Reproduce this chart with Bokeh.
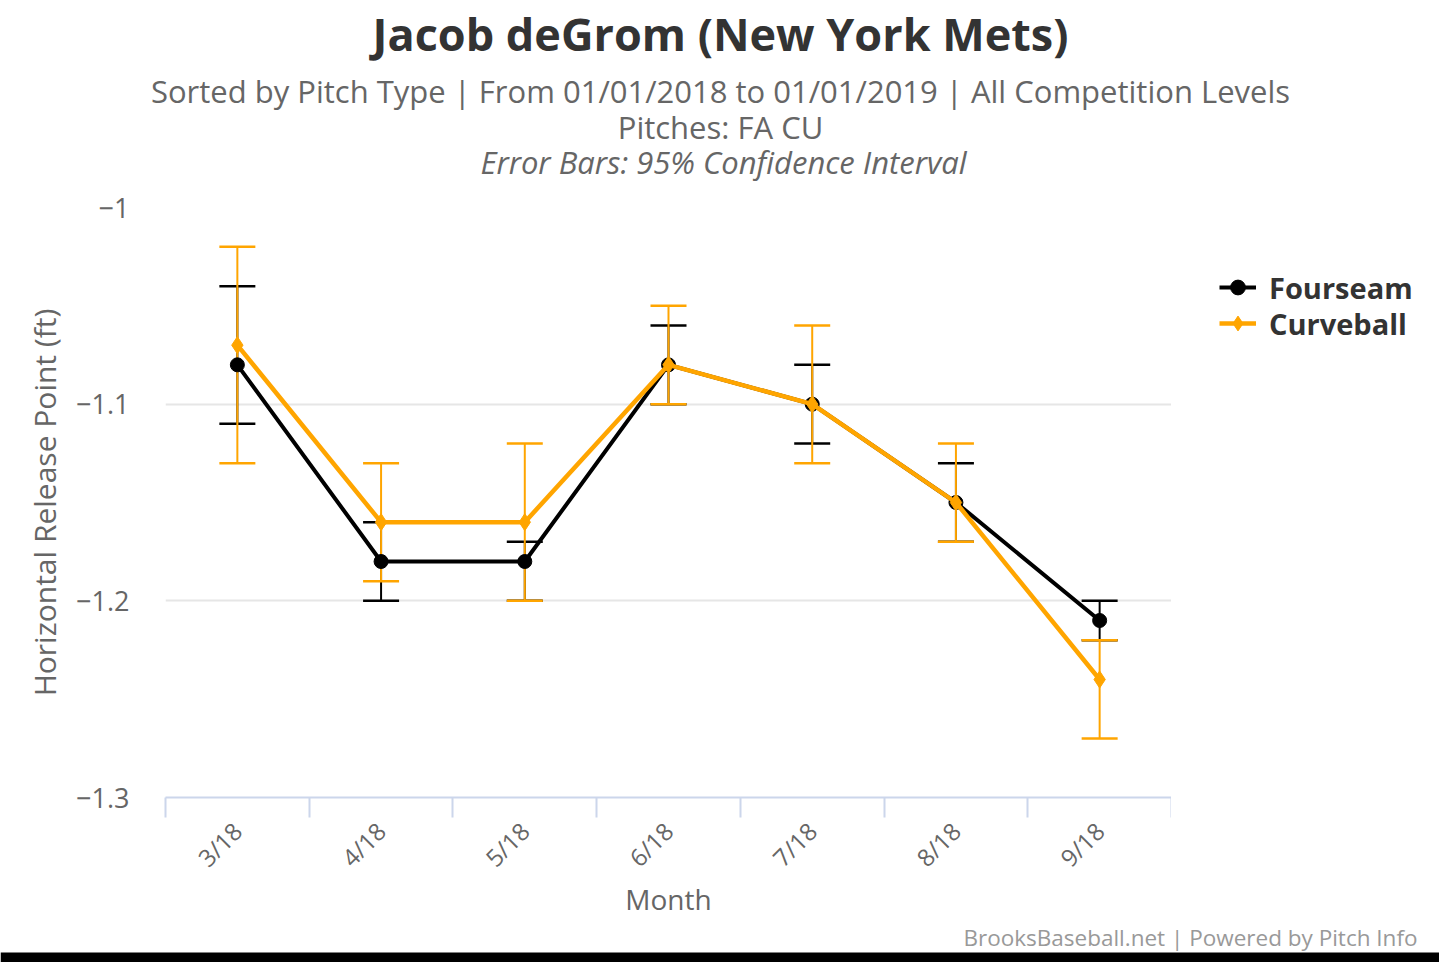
import math
from bokeh.plotting import figure
from bokeh.layouts import column, row
from bokeh.models import Range1d, FixedTicker, Legend, LegendItem, ColumnDataSource
from bokeh.core.properties import value
from bokeh.embed import file_html
from bokeh.resources import INLINE

# ---- data ----
months = ["3/18", "4/18", "5/18", "6/18", "7/18", "8/18", "9/18"]
fs_mean = [-1.08, -1.18, -1.18, -1.08, -1.10, -1.15, -1.21]
fs_low = [-1.11, -1.20, -1.20, -1.10, -1.12, -1.17, -1.22]
fs_high = [-1.04, -1.16, -1.17, -1.06, -1.08, -1.13, -1.20]
cu_mean = [-1.07, -1.16, -1.16, -1.08, -1.10, -1.15, -1.24]
cu_low = [-1.13, -1.19, -1.20, -1.10, -1.13, -1.17, -1.27]
cu_high = [-1.02, -1.13, -1.12, -1.05, -1.06, -1.12, -1.22]
y_ticks = [-1.3, -1.2, -1.1, -1.0]
y_tick_labels = ["\u22121.3", "\u22121.2", "\u22121.1", "\u22121"]
series_names = ["Fourseam", "Curveball"]

title_text = "Jacob deGrom (New York Mets)"
sub1 = "Sorted by Pitch Type | From 01/01/2018 to 01/01/2019 | All Competition Levels"
sub2 = "Pitches: FA CU"
sub3 = "Error Bars: 95% Confidence Interval"
credit = "BrooksBaseball.net | Powered by Pitch Info"

FONT = "Open Sans"
BLACK = "#000000"
ORANGE = "#FFA500"

# ---- page layout (pixels) ----
PAGE_W, PAGE_H = 1439, 962
HEADER_H = 185
FRAME_L, FRAME_R, FRAME_T, FRAME_B = 165, 1171, 207, 798
MAIN_TOP_BORDER = FRAME_T - HEADER_H
MAIN_BOTTOM_BORDER = 123
MAIN_H = FRAME_B - HEADER_H + MAIN_BOTTOM_BORDER
FOOTER_H = PAGE_H - HEADER_H - MAIN_H
SIDE_W = PAGE_W - FRAME_R
LEG_ITEM_H = 40
LEG_LEFT = 1219
legend_centers = [288, 324]


def blank(w, h, top=0, bottom=0):
    f = figure(width=w, height=h, output_backend="svg", toolbar_location=None,
               x_range=Range1d(0, w), y_range=Range1d(0, h),
               x_axis_type=None, y_axis_type=None,
               min_border_left=0, min_border_right=0,
               min_border_top=top, min_border_bottom=bottom)
    f.grid.visible = False
    f.outline_line_color = None
    f.background_fill_color = "white"
    f.border_fill_color = "white"
    return f


def htext(fig, txt, px, py, top, size, color, style="normal", align="center"):
    fig.text(x=[px], y=[top - py], text=[txt], text_font=value(FONT), text_font_size=size,
             text_color=color, text_font_style=style, text_align=align, text_baseline="middle")


# ---- header ----
header = blank(PAGE_W, HEADER_H)
htext(header, title_text, 720, 33, HEADER_H, "45px", "#333333", style="bold")
htext(header, sub1, 720, 90, HEADER_H, "31px", "#666666")
htext(header, sub2, 720, 126, HEADER_H, "31px", "#666666")
htext(header, sub3, 723, 161, HEADER_H, "31px", "#666666", style="italic")

# ---- main chart ----
xs = [i + 0.5 for i in range(len(months))]
src = ColumnDataSource(dict(x=xs, fs=fs_mean, fsl=fs_low, fsh=fs_high,
                            cu=cu_mean, cul=cu_low, cuh=cu_high))

p = figure(width=FRAME_R, height=MAIN_H, output_backend="svg", toolbar_location=None,
           x_range=Range1d(0, len(months)), y_range=Range1d(y_ticks[0], y_ticks[-1]),
           min_border_left=FRAME_L, min_border_right=0,
           min_border_top=MAIN_TOP_BORDER, min_border_bottom=MAIN_BOTTOM_BORDER)
p.outline_line_color = None
p.background_fill_color = "white"
p.border_fill_color = "white"

p.xgrid.visible = False
p.ygrid.ticker = FixedTicker(ticks=y_ticks)
p.ygrid.grid_line_color = "#e6e6e6"
p.ygrid.grid_line_width = 2

ya = p.yaxis[0]
ya.ticker = FixedTicker(ticks=y_ticks)
ya.major_label_overrides = {t: l for t, l in zip(y_ticks, y_tick_labels)}
ya.axis_line_color = None
ya.major_tick_line_color = None
ya.minor_tick_line_color = None
ya.major_tick_out = 0
ya.major_tick_in = 0
ya.major_label_standoff = 36
ya.major_label_text_font = FONT
ya.major_label_text_font_size = "27px"
ya.major_label_text_color = "#666666"
ya.axis_label = "Horizontal Release Point (ft)"
ya.axis_label_text_font = FONT
ya.axis_label_text_font_size = "30px"
ya.axis_label_text_font_style = "normal"
ya.axis_label_text_color = "#666666"
ya.axis_label_standoff = 8

xa = p.xaxis[0]
xa.ticker = FixedTicker(ticks=xs, minor_ticks=list(range(len(months) + 1)))
xa.major_label_overrides = {x: m for x, m in zip(xs, months)}
xa.major_tick_line_color = None
xa.major_tick_out = 0
xa.major_tick_in = 0
xa.minor_tick_out = 20
xa.minor_tick_in = 0
xa.minor_tick_line_color = "#ccd6eb"
xa.minor_tick_line_width = 2
xa.axis_line_color = "#ccd6eb"
xa.axis_line_width = 2
xa.major_label_orientation = math.pi / 4
xa.major_label_standoff = 9
xa.major_label_text_font = FONT
xa.major_label_text_font_size = "24px"
xa.major_label_text_color = "#666666"
xa.axis_label = "Month"
xa.axis_label_text_font = FONT
xa.axis_label_text_font_size = "28px"
xa.axis_label_text_font_style = "normal"
xa.axis_label_text_color = "#666666"
xa.axis_label_standoff = -8

# error bars
p.segment(x0="x", y0="fsl", x1="x", y1="fsh", line_color=BLACK, line_width=2, source=src)
p.scatter("x", "fsl", marker="dash", size=36, line_color=BLACK, line_width=2.5, source=src)
p.scatter("x", "fsh", marker="dash", size=36, line_color=BLACK, line_width=2.5, source=src)
p.segment(x0="x", y0="cul", x1="x", y1="cuh", line_color=ORANGE, line_width=2, source=src)
p.scatter("x", "cul", marker="dash", size=36, line_color=ORANGE, line_width=2.5, source=src)
p.scatter("x", "cuh", marker="dash", size=36, line_color=ORANGE, line_width=2.5, source=src)

# series
FS_STYLE = dict(line=dict(line_color=BLACK, line_width=4),
                mark=dict(marker="circle", size=14, fill_color=BLACK, line_color=BLACK))
CU_STYLE = dict(line=dict(line_color=ORANGE, line_width=4.5),
                mark=dict(marker="diamond", size=17, fill_color=ORANGE, line_color=ORANGE))
p.line("x", "fs", source=src, **FS_STYLE["line"])
p.scatter("x", "fs", source=src, **FS_STYLE["mark"])
p.line("x", "cu", source=src, **CU_STYLE["line"])
p.scatter("x", "cu", source=src, **CU_STYLE["mark"])

# ---- side panel with legend (its frame matches the main frame vertically) ----
side = blank(SIDE_W, MAIN_H, top=MAIN_TOP_BORDER, bottom=MAIN_BOTTOM_BORDER)
nan = float("nan")
for name, style, cy in zip(series_names, [FS_STYLE, CU_STYLE], legend_centers):
    rl = side.line(x=[nan], y=[nan], **style["line"])
    rm = side.scatter(x=[nan], y=[nan], **style["mark"])
    leg = Legend(items=[LegendItem(label=name, renderers=[rl, rm])],
                 location=(LEG_LEFT - FRAME_R, FRAME_B - (cy + LEG_ITEM_H // 2)),
                 padding=0, spacing=0, margin=0,
                 border_line_alpha=0, background_fill_alpha=0,
                 glyph_width=37, glyph_height=LEG_ITEM_H, label_height=LEG_ITEM_H,
                 label_standoff=13, label_text_font=FONT, label_text_font_style="bold",
                 label_text_font_size="29px", label_text_color="#333333")
    side.add_layout(leg)

# ---- footer ----
footer = blank(PAGE_W, FOOTER_H)
htext(footer, credit, 1417, 936.5 - (HEADER_H + MAIN_H), FOOTER_H, "22.5px", "#999999", align="right")
footer.quad(left=[0], right=[PAGE_W], bottom=[0], top=[10], fill_color="black", line_color=None)

layout = column(header, row(p, side), footer)
open("out.html", "w").write(file_html(layout, INLINE))
